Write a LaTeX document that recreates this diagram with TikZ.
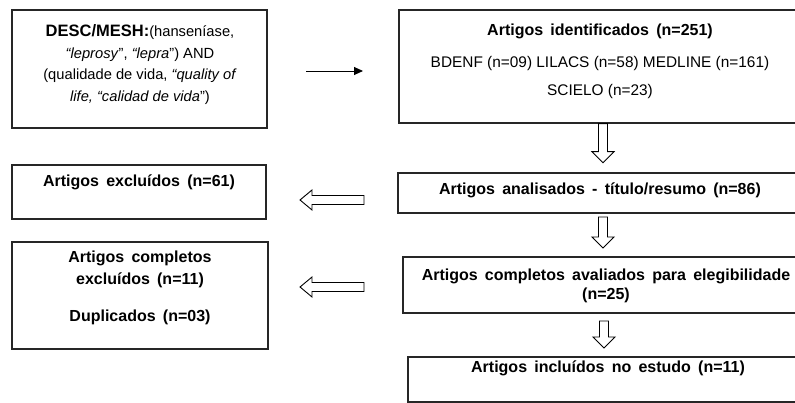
\documentclass[tikz,border=0pt]{standalone}
\usepackage{fontspec}
\setmainfont{Liberation Sans}
\usetikzlibrary{arrows.meta}
\tikzset{
  box/.style={draw=black!85,line width=1.3pt,inner sep=0pt},
  bt/.style={font=\bfseries\fontsize{16}{21.5}\selectfont,align=center,inner sep=0pt,
    execute at begin node={\spaceskip=0.45em\relax}},
  rt/.style={font=\fontsize{15.4}{21.5}\selectfont,align=center,inner sep=0pt},
  blk/.style={draw=black,line width=0.9pt,fill=white,line join=miter},
  dnblk/.pic={\draw[blk] (-4.5,0) -- (-4.5,#1-11) -- (-11,#1-11) -- (0,#1)
    -- (11,#1-11) -- (4.5,#1-11) -- (4.5,0) -- cycle;},
  lfblk/.pic={\draw[blk] (0,0) -- (12,-10) -- (12,-4.5) -- (#1,-4.5)
    -- (#1,4.5) -- (12,4.5) -- (12,10) -- cycle;}
}
\begin{document}
\begin{tikzpicture}[x=1pt,y=-1pt]
\useasboundingbox (0,0) rectangle (795,403);
\clip (0,0) rectangle (795,403);
\node[box,minimum width=255pt,minimum height=118pt] (desc) at (139.5,69) {};
\node[box,minimum width=402pt,minimum height=113pt] (ident) at (600,66.5) {};
\node[box,minimum width=254pt,minimum height=54pt] (excl) at (139,192) {};
\node[box,minimum width=404pt,minimum height=40pt] (analis) at (600,193) {};
\node[box,minimum width=256pt,minimum height=107pt] (complx) at (140,295.5) {};
\node[box,minimum width=406pt,minimum height=56pt] (aval) at (606,285) {};
\node[box,minimum width=400pt,minimum height=45pt] (inclu) at (608,379.5) {};
\node[rt,font=\fontsize{14.7}{21.6}\selectfont] (desctxt) at (140,64.5)
  {{\bfseries\fontsize{16.5}{21.6}\selectfont DESC/MESH:}(hanseníase,\\
   \textit{“leprosy}”, \textit{“lepra}”) AND\\
   (qualidade de vida, \textit{“quality of}\\
   \textit{life, “calidad de vida}”)};
\node[bt,anchor=base] (identa) at (600,36) {Artigos identificados\ (n=251)};
\node[rt,anchor=base] (identb) at (600,67.5) {BDENF (n=09) LILACS (n=58) MEDLINE (n=161)};
\node[rt,anchor=base] (identc) at (600,95.5) {SCIELO (n=23)};
\node[bt,anchor=base] (excltxt) at (139,187) {Artigos excluídos (n=61)};
\node[bt,anchor=base] (analistxt) at (600,195) {Artigos analisados - título/resumo (n=86)};
\node[bt,anchor=base] (complxa) at (140,263) {Artigos completos};
\node[bt,anchor=base] (complxb) at (140,285) {excluídos (n=11)};
\node[bt,anchor=base] (complxc) at (140,322) {Duplicados (n=03)};
\node[bt,anchor=base] (avala) at (606,280) {Artigos completos avaliados para elegibilidade};
\node[bt,anchor=base] (avalb) at (606,300) {(n=25)};
\node[bt,anchor=base] (inclutxt) at (608,372) {Artigos incluídos no estudo (n=11)};
\coordinate (r1) at (306,71);
\coordinate (r2) at (363,71);
\draw[line width=0.9pt,-{Triangle[length=9pt,width=8pt]}] (r1) -- (r2);
\pic at (ident.south -| 603,0) {dnblk=39};
\pic at (603,217) {dnblk=31};
\pic at (604,321) {dnblk=27};
\pic at (300,200) {lfblk=64};
\pic at (300,287) {lfblk=64};
\end{tikzpicture}
\end{document}
